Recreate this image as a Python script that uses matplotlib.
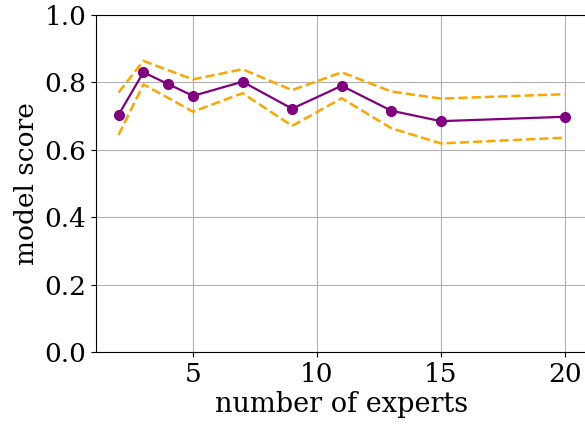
import matplotlib
matplotlib.use('Agg')
import matplotlib.pyplot as plt

experts = [2, 3, 4, 5, 7, 9, 11, 13, 15, 20]
score = [0.704, 0.830, 0.795, 0.760, 0.802, 0.722, 0.790, 0.716, 0.685, 0.698]
upper = [0.770, 0.864, 0.836, 0.809, 0.839, 0.777, 0.830, 0.773, 0.752, 0.765]
lower = [0.644, 0.794, 0.754, 0.713, 0.768, 0.671, 0.753, 0.664, 0.619, 0.636]

plt.rcParams['font.family'] = 'DejaVu Serif'

fig = plt.figure(figsize=(5.85, 4.26), dpi=100)
ax = fig.add_axes([0.1646, 0.1737, 0.839, 0.7911])

ax.plot(experts, upper, '--', color='orange', lw=1.8)
ax.plot(experts, lower, '--', color='orange', lw=1.8)
ax.plot(experts, score, '-o', color='purple', lw=1.6, markersize=7)

ax.set_ylim(0, 1.0)
ax.set_xticks([5, 10, 15, 20])
ax.grid(True, color='#b0b0b0', lw=0.8)
ax.tick_params(labelsize=19)
ax.set_xlabel('number of experts', fontsize=19.5, labelpad=3)
ax.set_ylabel('model score', fontsize=19, labelpad=4)

fig.savefig('out.png', dpi=100)
